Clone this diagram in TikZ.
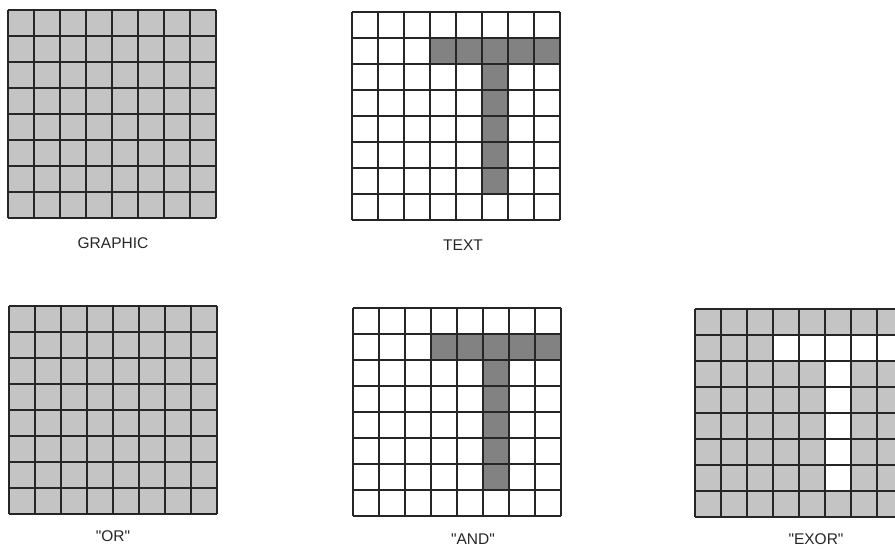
\documentclass[tikz,border=0pt]{standalone}
\usepackage{fontspec}
\setmainfont{Liberation Sans}
\usepackage{tikz}
\definecolor{litegray}{RGB}{196,196,196}
\definecolor{tgray}{RGB}{130,130,130}

% one 8x8 raster, top left corner at #1
\newcommand{\rastergrid}[1]{%
  \begin{scope}[shift={#1}]
    \foreach \k in {0,...,8} {
      \draw[gridline] (\k*26,0) -- (\k*26,208);
      \draw[gridline] (0,\k*26) -- (208,\k*26);
    }
  \end{scope}}
% fill the cells of list #2 with style #3
\newcommand{\rasterfill}[3]{%
  \begin{scope}[shift={#1}]
    \foreach \c/\r in #2
      \fill[#3] (\c*26,\r*26) rectangle ++(26,26);
  \end{scope}}

\begin{document}
\begin{tikzpicture}[
    x=1pt, y=-1pt,
    gridline/.style={line width=1.8pt, draw=black!85},
    bgfill/.style={fill=litegray},
    cellfill/.style={fill=tgray},
    lbl/.style={font=\fontsize{15.5}{18}\selectfont, text=black!85, inner sep=0pt}
]
\useasboundingbox (0,0) rectangle (895,549);
\def\tcells{3/1,4/1,5/1,6/1,7/1,5/2,5/3,5/4,5/5,5/6}
% GRAPHIC
\fill[bgfill] (8,10) rectangle ++(208,208);
\rastergrid{(8,10)}
\node[lbl] (graphic) at (113,243) {GRAPHIC};
% TEXT
\rasterfill{(352,12)}{\tcells}{cellfill}
\rastergrid{(352,12)}
\node[lbl] (text) at (463,245) {TEXT};
% OR
\fill[bgfill] (9,306) rectangle ++(208,208);
\rastergrid{(9,306)}
\node[lbl] (or) at (113,536) {\textquotedbl OR\textquotedbl};
% AND
\rasterfill{(353,308)}{\tcells}{cellfill}
\rastergrid{(353,308)}
\node[lbl] (and) at (473,539) {\textquotedbl AND\textquotedbl};
% EXOR
\fill[bgfill] (695,309) rectangle ++(208,208);
\rasterfill{(695,309)}{\tcells}{fill=white}
\rastergrid{(695,309)}
\node[lbl] (exor) at (816,539) {\textquotedbl EXOR\textquotedbl};
\end{tikzpicture}
\end{document}
